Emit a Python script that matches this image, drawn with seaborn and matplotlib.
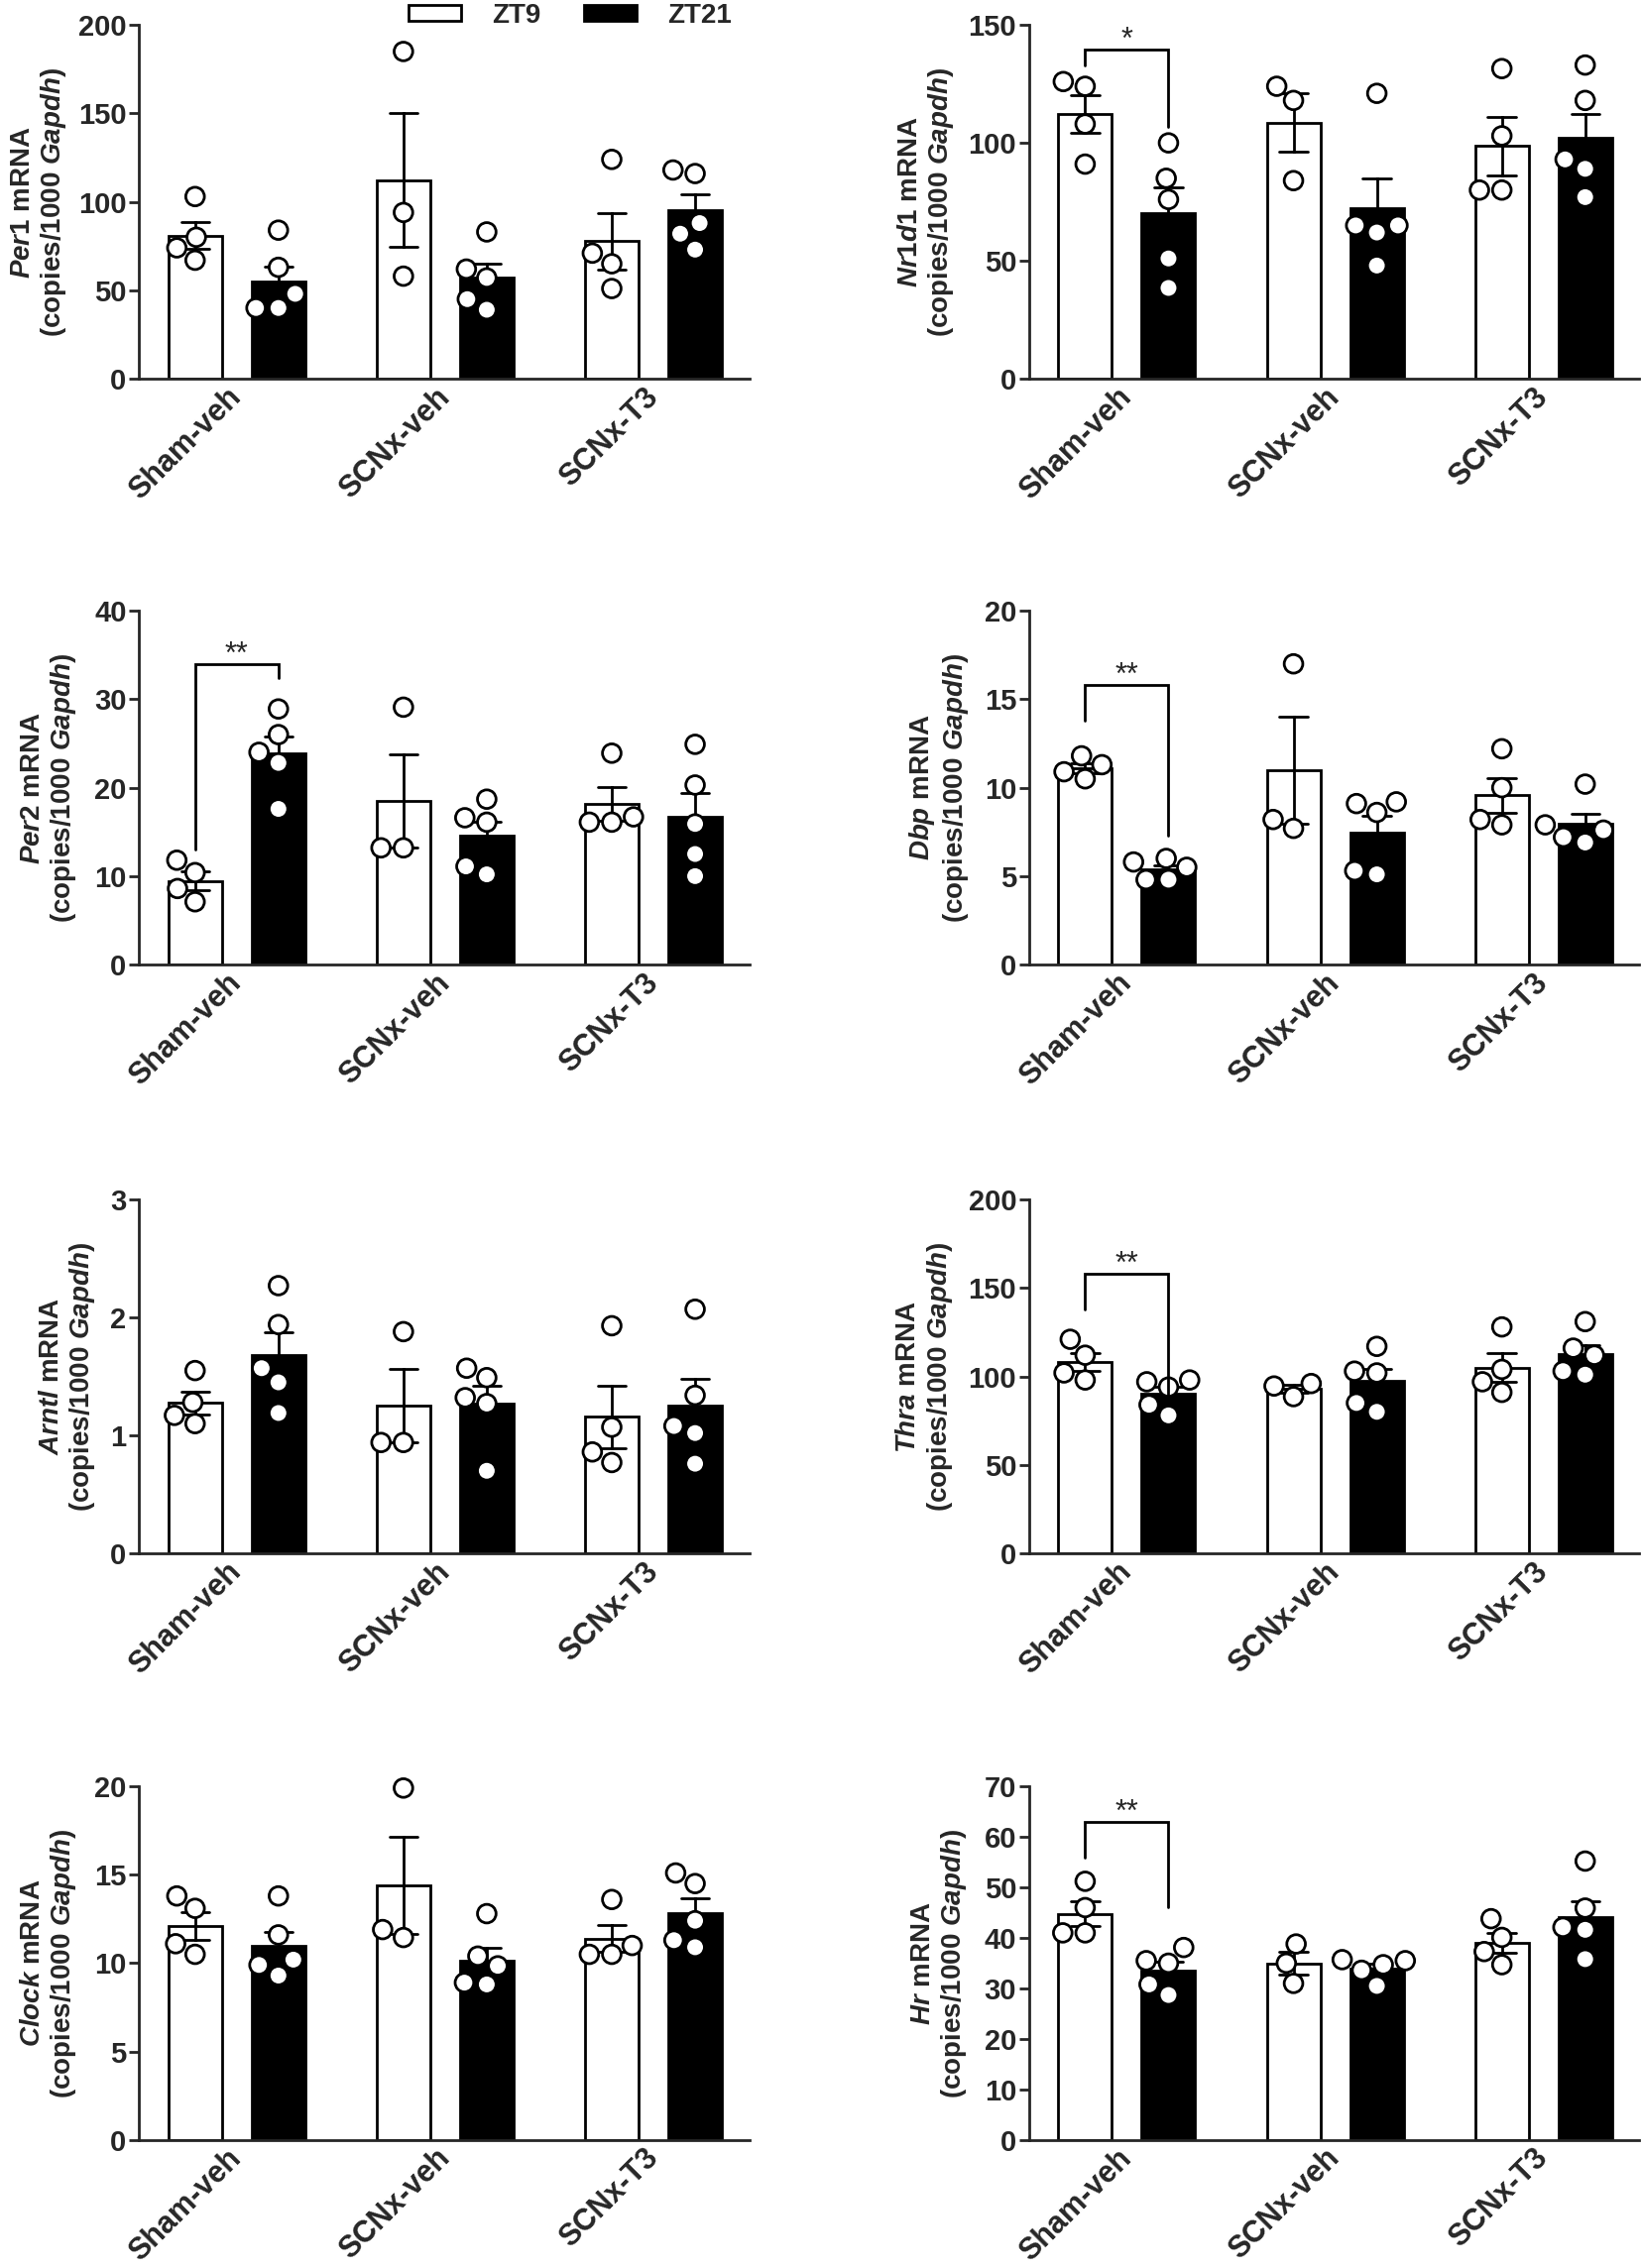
import matplotlib
matplotlib.use("Agg")
import matplotlib.pyplot as plt
from matplotlib.patches import Patch
import pandas as pd
import seaborn as sns

groups = ["Sham-veh", "SCNx-veh", "SCNx-T3"]
times = ["ZT9", "ZT21"]

# individual animals, one inner list per group (Sham-veh, SCNx-veh, SCNx-T3)
per1_zt9 = [[103, 80, 67, 74], [185, 94, 58], [124, 71, 65, 51]]
per1_zt21 = [[84, 63, 48, 40, 40], [83, 62, 57, 45, 39], [118, 116, 88, 82, 73]]
nr1d1_zt9 = [[124, 126, 108, 91], [124, 118, 84], [131.5, 103, 80, 80]]
nr1d1_zt21 = [[100, 85, 76, 51, 38.5], [121, 65, 65, 62, 48], [133, 118, 93, 89, 77]]
per2_zt9 = [[11.8, 10.4, 8.6, 7.1], [29.1, 13.2, 13.2], [23.9, 16.7, 16.1, 16.1]]
per2_zt21 = [[28.9, 26, 24, 22.8, 17.6], [18.7, 16.6, 16.1, 11.1, 10.2], [24.9, 20.3, 15.9, 12.5, 10]]
dbp_zt9 = [[11.8, 11.3, 10.9, 10.5], [17.0, 8.2, 7.7], [12.2, 10.0, 8.2, 7.9]]
dbp_zt21 = [[6.0, 5.8, 5.5, 4.8, 4.8], [9.1, 9.2, 8.6, 5.3, 5.1], [10.2, 7.9, 7.6, 7.2, 6.9]]
arntl_zt9 = [[1.55, 1.28, 1.17, 1.10], [1.88, 0.94, 0.94], [1.93, 1.07, 0.86, 0.77]]
arntl_zt21 = [[2.27, 1.94, 1.57, 1.45, 1.19], [1.57, 1.49, 1.32, 1.27, 0.70], [2.07, 1.34, 1.08, 1.02, 0.76]]
thra_zt9 = [[121, 112, 102, 98], [96, 94.6, 88.6], [128, 104, 97, 91]]
thra_zt21 = [[98, 97, 94, 84, 78], [117, 103, 102, 85, 80], [131, 116, 112, 103, 101]]
clock_zt9 = [[13.8, 13.1, 11.1, 10.5], [19.9, 11.9, 11.45], [13.6, 11.0, 10.5, 10.5]]
clock_zt21 = [[13.8, 11.6, 10.2, 9.9, 9.3], [12.8, 10.4, 9.85, 8.9, 8.8], [15.1, 14.5, 12.4, 11.3, 10.9]]
hr_zt9 = [[51.2, 46, 41, 41], [38.8, 35, 31], [43.8, 40.1, 37.3, 34.7]]
hr_zt21 = [[38.1, 35.5, 35, 30.8, 28.7], [35.7, 35.5, 34.7, 33.6, 30.5], [55.2, 45.9, 42.1, 41.6, 35.8]]

genes = ["Per1", "Nr1d1", "Per2", "Dbp", "Arntl", "Thra", "Clock", "Hr"]
gene_data = [(per1_zt9, per1_zt21), (nr1d1_zt9, nr1d1_zt21), (per2_zt9, per2_zt21),
             (dbp_zt9, dbp_zt21), (arntl_zt9, arntl_zt21), (thra_zt9, thra_zt21),
             (clock_zt9, clock_zt21), (hr_zt9, hr_zt21)]
y_max = [200, 150, 40, 20, 3, 200, 20, 70]
y_step = [50, 50, 10, 5, 1, 50, 5, 10]

# significance brackets: label, top, left leg end, right leg end
sig_marks = {
    "Nr1d1": ("*", 139.5, 133, 106.7),
    "Per2": ("**", 34, 13, 32.4),
    "Dbp": ("**", 15.8, 13.8, 7.3),
    "Thra": ("**", 158, 138, 87),
    "Hr": ("**", 62.9, 55.8, 46),
}

sns.set_style("ticks")
plt.rcParams["font.family"] = ["Liberation Sans", "DejaVu Sans"]
plt.rcParams["font.weight"] = "bold"
plt.rcParams["axes.labelweight"] = "bold"
plt.rcParams["mathtext.fontset"] = "custom"
plt.rcParams["mathtext.it"] = "Liberation Sans:italic:bold"
plt.rcParams["mathtext.rm"] = "Liberation Sans:bold"
plt.rcParams["mathtext.bf"] = "Liberation Sans:bold"

lw = 2.0
fig = plt.figure(figsize=(16.55, 22.88), dpi=100)
lefts = [0.0846, 0.627]
bottoms = [0.833, 0.5747, 0.3151, 0.0564]
label_x = [-0.115, -0.12, -0.099, -0.096, -0.068, -0.122, -0.099, -0.098]

for i, gene in enumerate(genes):
    ax = fig.add_axes([lefts[i % 2], bottoms[i // 2], 0.372, 0.156])
    rows = []
    for t, series in zip(times, gene_data[i]):
        for g, vals in zip(groups, series):
            for v in vals:
                rows.append({"group": g, "time": t, "value": v})
    df = pd.DataFrame(rows)

    sns.barplot(data=df, x="group", y="value", hue="time", order=groups, hue_order=times,
                palette={"ZT9": "white", "ZT21": "black"}, saturation=1, gap=0.357,
                edgecolor="black", linewidth=lw, errorbar="se", capsize=0.27,
                err_kws={"color": "black", "linewidth": lw}, legend=False, ax=ax)
    sns.swarmplot(data=df, x="group", y="value", hue="time", order=groups, hue_order=times,
                  dodge=True, palette={"ZT9": "white", "ZT21": "white"}, edgecolor="black",
                  linewidth=lw, size=13.5, legend=False, zorder=4, ax=ax)
    for coll in ax.collections:
        coll.set_clip_on(False)

    ax.set_xlim(-0.47, 2.46)
    ax.set_ylim(0, y_max[i])
    ax.set_yticks(range(0, y_max[i] + 1, y_step[i]))
    sns.despine(ax=ax)
    for side in ["left", "bottom"]:
        ax.spines[side].set_linewidth(lw)
    ax.tick_params(axis="y", labelsize=21, width=lw, length=7, pad=2)
    ax.tick_params(axis="x", length=0, pad=10)
    ax.set_xticks(range(len(groups)))
    ax.set_xticklabels(groups, rotation=45, ha="right", va="center",
                       rotation_mode="anchor", fontsize=22, fontweight="bold")
    ax.set_xlabel("")
    ax.set_ylabel(r"$\mathit{%s}$ mRNA" % gene + "\n" + r"(copies/1000 $\mathit{Gapdh}$)",
                  fontsize=20, fontweight="bold", linespacing=1.15)
    ax.yaxis.set_label_coords(label_x[i], 0.5)

    if gene in sig_marks:
        txt, top, yl, yr = sig_marks[gene]
        b0 = ax.containers[0][0]
        b1 = ax.containers[1][0]
        x0 = b0.get_x() + b0.get_width() / 2
        x1 = b1.get_x() + b1.get_width() / 2
        ax.plot([x0, x0, x1, x1], [yl, top, top, yr], color="black", lw=lw,
                solid_joinstyle="miter", zorder=5, clip_on=False)
        ax.text((x0 + x1) / 2, top + 0.025 * y_max[i], txt, ha="center", va="center",
                fontsize=22, fontweight="normal")

handles = [Patch(facecolor="white", edgecolor="black", linewidth=lw),
           Patch(facecolor="black", edgecolor="black", linewidth=lw)]
fig.legend(handles, times, loc="center", bbox_to_anchor=(575 / 1655, 1 - 16 / 2288),
           ncol=2, frameon=False, handlelength=1.9, handleheight=0.5, handletextpad=1.1,
           columnspacing=1.6, prop={"size": 20, "weight": "bold"})

fig.savefig("out.png", dpi=100, facecolor="white")
